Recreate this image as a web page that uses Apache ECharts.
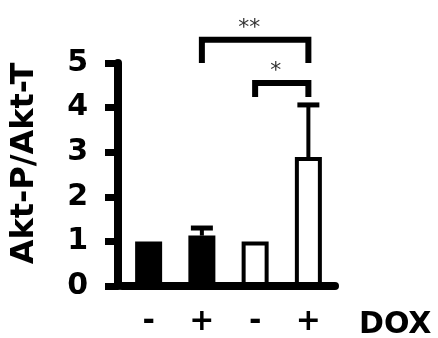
<!DOCTYPE html>
<html>
<head>
<meta charset="utf-8">
<script src="https://cdn.jsdelivr.net/npm/echarts@6/dist/echarts.min.js"></script>
<style>html,body{margin:0;padding:0;background:#fff}#c{width:438px;height:338px}</style>
</head>
<body>
<div id="c"></div>
<script>
const categories = ['-', '+', '-', '+'];
const means = [1.0, 1.13, 1.0, 2.89];
const errTop = [1.0, 1.3, 1.0, 4.06];
const filled = [true, true, false, false];
const yTicks = [0, 1, 2, 3, 4, 5];
const bracketFrom = [1, 2];
const bracketTo = [3, 3];
const bracketTop = [5.52, 4.55];
const bracketLeg = [5.0, 4.24];
const bracketLabel = ['**', '*'];
const xName = 'DOX';
const yName = 'Akt-P/Akt-T';

const chart = echarts.init(document.getElementById('c'));
const FONT = 'DejaVu Sans';

const barData = means.map((v, i) => ({
  value: v,
  itemStyle: filled[i]
    ? { color: '#000', borderColor: '#000', borderWidth: 0 }
    : { color: '#fff', borderColor: '#000', borderWidth: 4 }
}));

const errData = means.map((v, i) => [i, v, errTop[i]]);
const bracketData = bracketFrom.map((f, i) => [f, bracketTo[i], bracketTop[i], bracketLeg[i], i]);

chart.setOption({
  animation: false,
  backgroundColor: '#fff',
  title: {
    text: xName, left: 354, top: 305,
    textStyle: { fontFamily: FONT, fontWeight: 'bold', fontSize: 30, color: '#000' }
  },
  grid: { left: 122, right: 103, top: 63, bottom: 52, containLabel: false },
  xAxis: {
    type: 'category', data: categories,
    axisLine: { show: true, lineStyle: { color: '#000', width: 8 } },
    axisTick: { show: false },
    axisLabel: { margin: 21, fontFamily: FONT, fontWeight: 'bold', fontSize: 30, color: '#000' }
  },
  yAxis: {
    type: 'value', min: 0, max: 5, interval: 1, offset: 4,
    name: yName, nameLocation: 'middle', nameRotate: 90, nameGap: 77,
    nameTextStyle: { fontFamily: FONT, fontWeight: 'bold', fontSize: 32, color: '#000', padding: [0, 0, 0, 22] },
    axisLine: { show: true, lineStyle: { color: '#000', width: 8 } },
    axisTick: { show: true, length: 13, lineStyle: { color: '#000', width: 7 } },
    axisLabel: { margin: 30, fontFamily: FONT, fontWeight: 'bold', fontSize: 30, color: '#000',
      formatter: v => yTicks.includes(v) ? String(v) : '' },
    splitLine: { show: false }
  },
  series: [
    {
      type: 'bar', data: barData, barWidth: 27, z: 2
    },
    {
      type: 'custom', z: 3, clip: false,
      data: errData,
      renderItem: function (params, api) {
        const x = api.value(0);
        const p0 = api.coord([x, api.value(1)]);
        const p1 = api.coord([x, api.value(2)]);
        if (Math.abs(p0[1] - p1[1]) < 1) return { type: 'group', children: [] };
        const half = 11;
        return {
          type: 'group',
          children: [
            { type: 'line', shape: { x1: p0[0], y1: p0[1], x2: p1[0], y2: p1[1] }, style: { stroke: '#000', lineWidth: 4 } },
            { type: 'line', shape: { x1: p1[0] - half, y1: p1[1], x2: p1[0] + half, y2: p1[1] }, style: { stroke: '#000', lineWidth: 5 } }
          ]
        };
      }
    },
    {
      type: 'custom', z: 4, clip: false,
      data: bracketData,
      renderItem: function (params, api) {
        const a = api.coord([api.value(0), api.value(2)]);
        const b = api.coord([api.value(1), api.value(2)]);
        const aLeg = api.coord([api.value(0), api.value(3)]);
        const bLeg = api.coord([api.value(1), api.value(3)]);
        const label = bracketLabel[api.value(4)];
        return {
          type: 'group',
          children: [
            { type: 'polyline', shape: { points: [[aLeg[0], aLeg[1]], [a[0], a[1]], [b[0], b[1]], [bLeg[0], bLeg[1]]] },
              style: { stroke: '#000', lineWidth: 6, fill: null, lineJoin: 'miter' } },
            { type: 'text', x: (a[0] + b[0]) / 2 - 6, y: a[1] - 12,
              style: { text: label, fontFamily: FONT, fontSize: 22, fill: '#333', align: 'center', verticalAlign: 'middle' } }
          ]
        };
      }
    }
  ]
});
</script>
</body>
</html>
